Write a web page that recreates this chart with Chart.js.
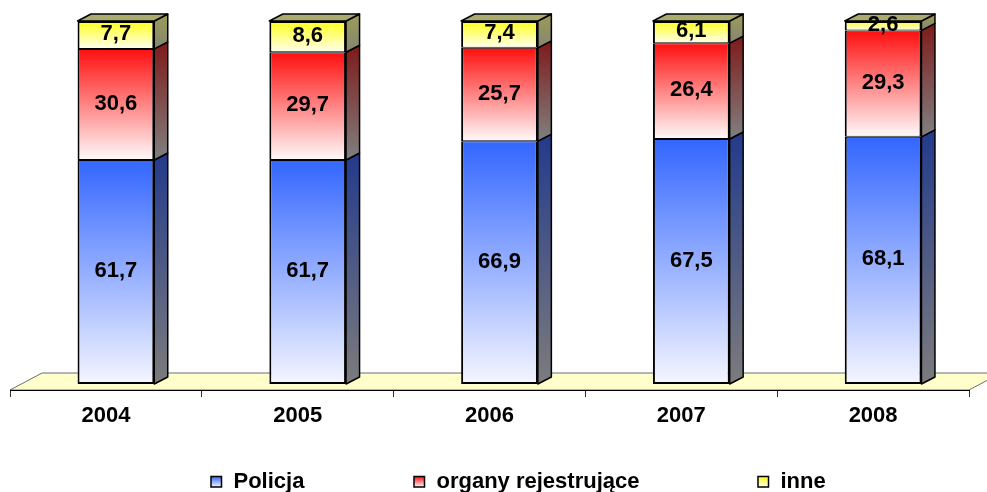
<!DOCTYPE html>
<html><head><meta charset="utf-8">
<script src="https://cdn.jsdelivr.net/npm/chart.js@4/dist/chart.umd.min.js"></script>
<style>html,body{margin:0;padding:0;background:#fff;overflow:hidden}canvas{display:block}</style>
</head><body>
<canvas id="c" width="987" height="492" style="width:987px;height:492px"></canvas>
<script>
// ---- data ----
const years = ['2004', '2005', '2006', '2007', '2008'];
const policja = [61.7, 61.7, 66.9, 67.5, 68.1];
const organy = [30.6, 29.7, 25.7, 26.4, 29.3];
const inne = [7.7, 8.6, 7.4, 6.1, 2.6];
const seriesNames = ['Policja', 'organy rejestrujące', 'inne'];

// ---- styling ----
const FONT = '"Liberation Sans", Arial, sans-serif';
const SHIFT = { x: 10, y: -6 };     // front plane of bars relative to floor front edge
const DEPTH = { x: 13.5, y: -7 };   // bar depth
const FLOOR = { x: 32, y: -17 };    // floor depth
const looks = [
  { top: '#3366FF', bottom: '#F5F6FF', sideTop: '#233A8C', sideBottom: '#7C7C7C' },
  { top: '#FF0F0F', bottom: '#FFFAFA', sideTop: '#7E1A1A', sideBottom: '#808080' },
  { top: '#FFFF1A', bottom: '#FFFFF2', sideTop: '#9C9C55', sideBottom: '#858575' }
];
const TOP_FACE = '#ABAB70';
const LEGEND_X = [211, 414, 758];

const seriesData = [policja, organy, inne];

function frontFill(ctx) {
  const chart = ctx.chart;
  const di = ctx.datasetIndex, i = ctx.dataIndex;
  const lk = looks[di];
  if (!chart.chartArea || !chart.scales.y || i === undefined) return lk.top;
  let base = 0;
  for (let k = 0; k < di; k++) base += seriesData[k][i];
  const y = chart.scales.y;
  const yTop = y.getPixelForValue(base + seriesData[di][i]);
  const yBot = y.getPixelForValue(base);
  const g = chart.ctx.createLinearGradient(0, yTop, 0, yBot);
  g.addColorStop(0, lk.top);
  g.addColorStop(1, lk.bottom);
  return g;
}

const threeD = {
  id: 'threeD',
  beforeDraw(chart) {
    const { ctx, chartArea: a } = chart;
    ctx.save();
    ctx.beginPath();
    ctx.moveTo(a.left, a.bottom);
    ctx.lineTo(a.left + FLOOR.x, a.bottom + FLOOR.y);
    ctx.lineTo(a.right + FLOOR.x, a.bottom + FLOOR.y);
    ctx.lineTo(a.right, a.bottom);
    ctx.closePath();
    ctx.fillStyle = '#FFFFCC';
    ctx.fill();
    ctx.strokeStyle = '#6E6E6E';
    ctx.lineWidth = 1;
    ctx.stroke();
    ctx.restore();
  },
  beforeDatasetsDraw(chart) {
    chart.ctx.save();
    chart.ctx.translate(SHIFT.x, SHIFT.y);
  },
  afterDatasetsDraw(chart) {
    const ctx = chart.ctx;
    const n = chart.data.datasets.length;
    chart.data.datasets.forEach((ds, di) => {
      const meta = chart.getDatasetMeta(di);
      const lk = looks[di];
      meta.data.forEach(el => {
        const { x, y, base, width } = el.getProps(['x', 'y', 'base', 'width'], true);
        const L = x - width / 2, R = x + width / 2;
        const g = ctx.createLinearGradient(0, y + DEPTH.y, 0, base);
        g.addColorStop(0, lk.sideTop);
        g.addColorStop(1, lk.sideBottom);
        ctx.beginPath();
        ctx.moveTo(R, y);
        ctx.lineTo(R + DEPTH.x, y + DEPTH.y);
        ctx.lineTo(R + DEPTH.x, base + DEPTH.y);
        ctx.lineTo(R, base);
        ctx.closePath();
        ctx.fillStyle = g;
        ctx.fill();
        ctx.strokeStyle = '#000';
        ctx.lineWidth = 1.5;
        ctx.lineJoin = 'round';
        ctx.stroke();
        if (di === n - 1) {
          ctx.beginPath();
          ctx.moveTo(L, y);
          ctx.lineTo(L + DEPTH.x, y + DEPTH.y);
          ctx.lineTo(R + DEPTH.x, y + DEPTH.y);
          ctx.lineTo(R, y);
          ctx.closePath();
          ctx.fillStyle = TOP_FACE;
          ctx.fill();
          ctx.stroke();
        }
      });
    });
    // value labels
    ctx.fillStyle = '#000';
    ctx.font = 'bold 22px ' + FONT;
    ctx.textAlign = 'center';
    ctx.textBaseline = 'middle';
    chart.data.datasets.forEach((ds, di) => {
      const meta = chart.getDatasetMeta(di);
      meta.data.forEach((el, i) => {
        const { x, y, base } = el.getProps(['x', 'y', 'base'], true);
        const txt = ds.data[i].toFixed(1).replace('.', ',');
        ctx.fillText(txt, x, (y + base) / 2 - 1);
      });
    });
    ctx.restore();
  },
  afterDraw(chart) {
    const ctx = chart.ctx;
    ctx.save();
    ctx.font = 'bold 22px ' + FONT;
    ctx.textBaseline = 'alphabetic';
    ctx.textAlign = 'left';
    chart.data.datasets.forEach((ds, di) => {
      const lk = looks[di];
      const mx = LEGEND_X[di], my = 476.5, s = 10.5;
      const g = ctx.createLinearGradient(0, my, 0, my + s);
      g.addColorStop(0, lk.top);
      g.addColorStop(1, lk.bottom);
      ctx.fillStyle = g;
      ctx.fillRect(mx, my, s, s);
      ctx.strokeStyle = '#000';
      ctx.lineWidth = 1.5;
      ctx.strokeRect(mx, my, s, s);
      ctx.fillStyle = '#000';
      ctx.fillText(ds.label, mx + s + 12, 488);
    });
    ctx.restore();
  }
};

const datasets = seriesData.map((d, di) => ({
  label: seriesNames[di],
  data: d,
  backgroundColor: frontFill,
  borderColor: '#000',
  borderWidth: { left: 2, right: 2, top: di === 2 ? 2 : 1, bottom: di === 0 ? 2 : 1 },
  borderSkipped: false,
  categoryPercentage: 0.4,
  barPercentage: 1,
  clip: false
}));

new Chart(document.getElementById('c'), {
  type: 'bar',
  data: { labels: years, datasets },
  options: {
    responsive: false,
    devicePixelRatio: 1,
    animation: false,
    layout: { padding: { top: 27, left: 10, right: 18, bottom: 56.6 } },
    plugins: { legend: { display: false }, tooltip: { enabled: false } },
    scales: {
      x: {
        stacked: true,
        grid: { display: true, drawOnChartArea: false, drawTicks: true, tickLength: 7, color: '#333', offset: true },
        border: { display: true, color: '#000', width: 1 },
        ticks: { color: '#000', padding: 6, font: { family: FONT, size: 22, weight: 'bold' } }
      },
      y: { stacked: true, display: false, min: 0, max: 100 }
    }
  },
  plugins: [threeD]
});
</script>
</body></html>
